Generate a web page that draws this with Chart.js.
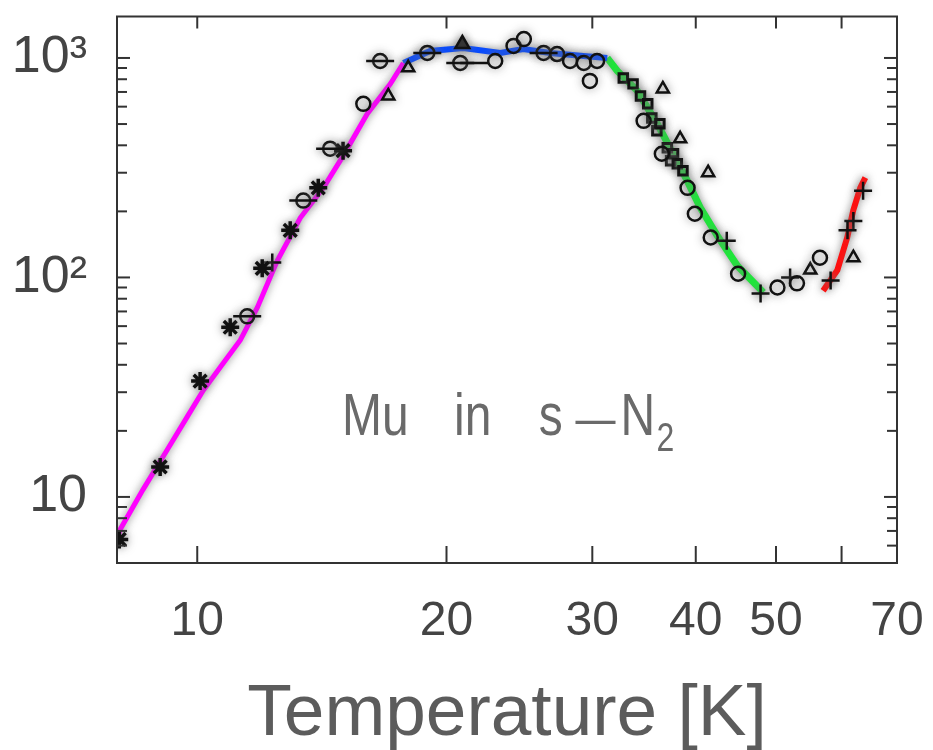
<!DOCTYPE html>
<html><head><meta charset="utf-8">
<script src="https://cdn.jsdelivr.net/npm/chart.js@4/dist/chart.umd.min.js"></script>
<style>html,body{margin:0;padding:0;background:#fff;}#wrap{width:933px;height:750px;}</style>
</head><body><div id="wrap"><canvas id="c" width="933" height="750"></canvas></div>
<script>
// ---- data (temperature in K, muonium rate) ----
const magentaT = [8.01, 8.07, 8.60, 9.20, 9.72, 10.17, 10.66, 11.27, 11.82, 12.49, 13.32, 14.20, 15.01, 16.04, 17.11, 17.74];
const magentaMu = [6.4, 7.1, 10.8, 16.4, 23.1, 30.6, 39.0, 51.8, 73, 119, 187, 256, 359, 556, 762, 949];
const blueT = [17.74, 19.11, 20.96, 23.23, 24.76, 26.69, 29.26, 31.27];
const blueMu = [949, 1076, 1110, 1054, 1099, 1054, 1021, 1000];
const greenT = [31.27, 32.16, 34.0, 35.94, 37.57, 39.06, 40.5, 42.46, 44.9, 48.27];
const greenMu = [1000, 873, 708, 501, 366, 276, 208, 155, 113, 85.5];
const redT = [57.0, 59.3, 60.95, 61.98, 63.2, 64.1];
const redMu = [87, 108, 152, 202, 256, 285];

const starT = [8.05, 9.02, 10.08, 10.96, 11.98, 12.95, 14.0, 15.0];
const starMu = [6.4, 13.7, 33.7, 59.3, 110, 164, 256, 378];
const circT = [11.49, 13.43, 14.47, 15.87, 16.63, 18.96, 20.78, 22.9, 24.1, 24.8, 26.2, 27.2, 28.2, 29.3, 30.4, 29.8, 34.6, 36.4, 39.1, 39.9, 41.7, 45.0, 50.2, 53.0, 56.5];
const circMu = [66.5, 224, 386, 618, 969, 1054, 949, 969, 1135, 1219, 1054, 1042, 969, 949, 969, 786, 517, 366, 256, 195, 152, 104, 90, 94, 123];
const errT = [11.49, 13.43, 14.47, 16.63, 18.96, 20.78, 21.6, 26.2];
const errMu = [66.5, 224, 386, 969, 1054, 949, 949, 1054];
const triT = [17.01, 17.98, 36.5, 38.3, 41.4, 55.0, 62.0];
const triMu = [671, 902, 723, 428, 300, 108, 123];
const solidTriT = [20.9];
const solidTriMu = [1159];
const sqT = [32.7, 33.6, 34.3, 35.0, 35.4, 35.9, 36.2, 36.96, 37.3, 37.6, 38.0, 38.6];
const sqMu = [811, 762, 671, 618, 533, 466, 501, 390, 340, 366, 330, 306];
const plusT = [12.32, 43.6, 47.9, 52.0, 58.2, 62.0, 63.7, 61.0];
const plusMu = [117, 147, 84.5, 100, 96.9, 181, 248, 164];

const xTickValues = [10, 20, 30, 40, 50, 60, 70];
const xTickLabels = ['10', '20', '30', '40', '50', '', '70'];
const yTickValues = [5,6,7,8,9,10,20,30,40,50,60,70,80,90,100,200,300,400,500,600,700,800,900,1000];
const yLabelMap = {10: '10', 100: '10²', 1000: '10³'};

const pts = (xs, ys) => xs.map((x, i) => ({x, y: ys[i]}));
const SANS = "'Liberation Sans',Arial,sans-serif";

function curve(xs, ys, color, w) {
  return {type: 'scatter', data: pts(xs, ys), showLine: true, borderColor: color, borderWidth: w,
    pointRadius: 0, tension: 0, order: 2, halo: true};
}
function marks(xs, ys, style, r, fill, bw) {
  return {type: 'scatter', data: pts(xs, ys), pointStyle: style, pointRadius: r,
    borderColor: '#111', backgroundColor: fill || 'rgba(0,0,0,0)', pointBorderWidth: bw || 2.5, order: 0, halo: true};
}

const haloPlugin = {
  id: 'halo',
  beforeDatasetDraw(chart, args) {
    const ctx = chart.ctx; ctx.save();
    if (chart.data.datasets[args.index].halo) { ctx.shadowColor = 'rgba(120,120,120,0.9)'; ctx.shadowBlur = 8; }
  },
  afterDatasetDraw(chart) { chart.ctx.restore(); }
};

const frame = {
  id: 'frame',
  afterDatasetsDraw(chart) {
    const {ctx, chartArea: a, scales: {x, y}} = chart;
    ctx.save();
    ctx.strokeStyle = '#333'; ctx.lineWidth = 2;
    const ln = (x1, y1, x2, y2) => { ctx.beginPath(); ctx.moveTo(x1, y1); ctx.lineTo(x2, y2); ctx.stroke(); };
    x.ticks.forEach(t => {
      const px = x.getPixelForValue(t.value);
      if (px < a.left + 2 || px > a.right - 2) return;
      ln(px, a.bottom, px, a.bottom - 17); ln(px, a.top, px, a.top + 12);
    });
    y.ticks.forEach(t => {
      const py = y.getPixelForValue(t.value);
      if (py < a.top + 2 || py > a.bottom - 2) return;
      const major = yLabelMap[t.value] !== undefined; const len = major ? 13 : 10;
      ln(a.left, py, a.left + len, py); ln(a.right, py, a.right - len, py);
    });
    ctx.strokeRect(a.left, a.top, a.right - a.left, a.bottom - a.top);
    // annotation text (horizontally condensed like the original)
    ctx.fillStyle = '#6a6a6a'; ctx.textBaseline = 'alphabetic'; ctx.textAlign = 'left';
    const bx = a.left + 225, by = a.top + 418;
    ctx.translate(bx, by); ctx.scale(0.8, 1);
    ctx.font = '60px ' + SANS;
    ctx.fillText('Mu', 0, 0);
    ctx.fillText('in', 140, 0);
    ctx.fillText('s', 246, 0);
    ctx.font = '50px ' + SANS;
    ctx.fillText('\u2014', 292, 0);
    ctx.font = '60px ' + SANS;
    ctx.fillText('N', 348, 0);
    ctx.font = '40px ' + SANS;
    ctx.fillText('2', 393, 16);
    ctx.restore();
  }
};

new Chart(document.getElementById('c'), {
  type: 'scatter',
  data: {datasets: [
    curve(magentaT, magentaMu, '#ff00ff', 5),
    curve(blueT, blueMu, '#0a4cff', 6),
    curve(greenT, greenMu, '#1ee83a', 7),
    curve(redT, redMu, '#ff1010', 6),
    marks(errT, errMu, 'line', 14),
    marks(starT, starMu, 'star', 9, null, 3.5),
    marks(circT, circMu, 'circle', 7),
    marks(triT, triMu, 'triangle', 7),
    marks(solidTriT, solidTriMu, 'triangle', 8, '#111'),
    marks(sqT, sqMu, 'rect', 6, null, 3),
    marks(plusT, plusMu, 'cross', 9)
  ]},
  options: {
    responsive: false, animation: false, devicePixelRatio: 1,
    layout: {padding: {top: 15, right: 36, left: 0, bottom: 0}},
    plugins: {legend: {display: false}, tooltip: {enabled: false}},
    scales: {
      x: {
        type: 'logarithmic', min: 8, max: 70,
        afterBuildTicks: s => { s.ticks = xTickValues.map(v => ({value: v})); },
        afterFit: s => { s.height = 187; s.paddingLeft = 0; s.paddingRight = 0; },
        grid: {display: false}, border: {display: false},
        ticks: {autoSkip: false, maxRotation: 0, padding: 22, color: '#444',
          font: {family: SANS, size: 48},
          callback: (v) => { const i = xTickValues.indexOf(v); return i >= 0 ? xTickLabels[i] : ''; }},
        title: {display: true, text: 'Temperature [K]', color: '#5c5c5c',
          font: {family: SANS, size: 73, lineHeight: 0.95}, padding: {top: 0, bottom: 0}}
      },
      y: {
        type: 'logarithmic', min: 5, max: 1545,
        afterBuildTicks: s => { s.ticks = yTickValues.map(v => ({value: v})); },
        afterFit: s => { s.width = 117; s.paddingTop = 0; s.paddingBottom = 0; },
        grid: {display: false}, border: {display: false},
        ticks: {autoSkip: false, padding: 22, color: '#444',
          font: {family: SANS, size: 52},
          callback: (v) => yLabelMap[v] !== undefined ? yLabelMap[v] : ''}
      }
    }
  },
  plugins: [haloPlugin, frame]
});
</script></body></html>
